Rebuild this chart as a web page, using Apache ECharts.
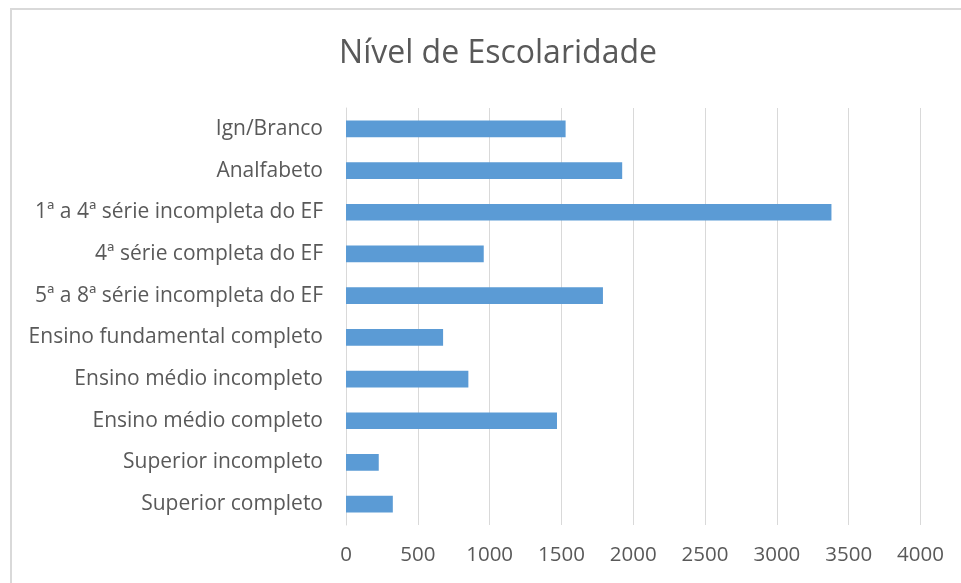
<!DOCTYPE html>
<html>
<head>
<meta charset="utf-8">
<script src="https://cdn.jsdelivr.net/npm/echarts@6/dist/echarts.min.js"></script>
<style>html,body{margin:0;padding:0;background:#fff;}#c{width:961px;height:583px;}</style>
</head>
<body>
<div id="c"></div>
<script>
const categories = [
  'Ign/Branco',
  'Analfabeto',
  '1ª a 4ª série incompleta do EF',
  '4ª série completa do EF',
  '5ª a 8ª série incompleta do EF',
  'Ensino fundamental completo',
  'Ensino médio incompleto',
  'Ensino médio completo',
  'Superior incompleto',
  'Superior completo'
];
const values = [1529, 1923, 3380, 959, 1789, 676, 852, 1469, 228, 326];
const xTicks = { min: 0, max: 4000, interval: 500 };

const chart = echarts.init(document.getElementById('c'), null, { renderer: 'canvas' });
const font = 'Open Sans';
chart.setOption({
  backgroundColor: '#ffffff',
  animation: false,
  title: {
    text: 'Nível de Escolaridade',
    left: 493, top: 33, textAlign: 'center',
    textStyle: { fontFamily: font, fontSize: 32, fontWeight: 'normal', color: '#595959' }
  },
  graphic: [{
    type: 'rect', shape: { x: 11, y: 9, width: 1000, height: 1000 },
    style: { fill: 'none', stroke: '#d9d9d9', lineWidth: 2 }, silent: true
  }],
  grid: { left: 346, right: 40.5, top: 108, bottom: 58, containLabel: false },
  xAxis: {
    type: 'value', min: xTicks.min, max: xTicks.max, interval: xTicks.interval,
    axisLine: { show: false }, axisTick: { show: false },
    splitLine: { lineStyle: { color: '#d9d9d9', width: 1 } },
    axisLabel: { fontFamily: font, fontSize: 20.5, color: '#595959', margin: 20,
      formatter: v => String(v) }
  },
  yAxis: {
    type: 'category', data: categories, inverse: true,
    axisLine: { show: true, lineStyle: { color: '#d9d9d9' } },
    axisTick: { show: false },
    axisLabel: { fontFamily: font, fontSize: 21, color: '#595959', margin: 23 }
  },
  series: [{
    type: 'bar', data: values, barCategoryGap: '60%',
    itemStyle: { color: '#5b9bd5' }
  }]
});
</script>
</body>
</html>
